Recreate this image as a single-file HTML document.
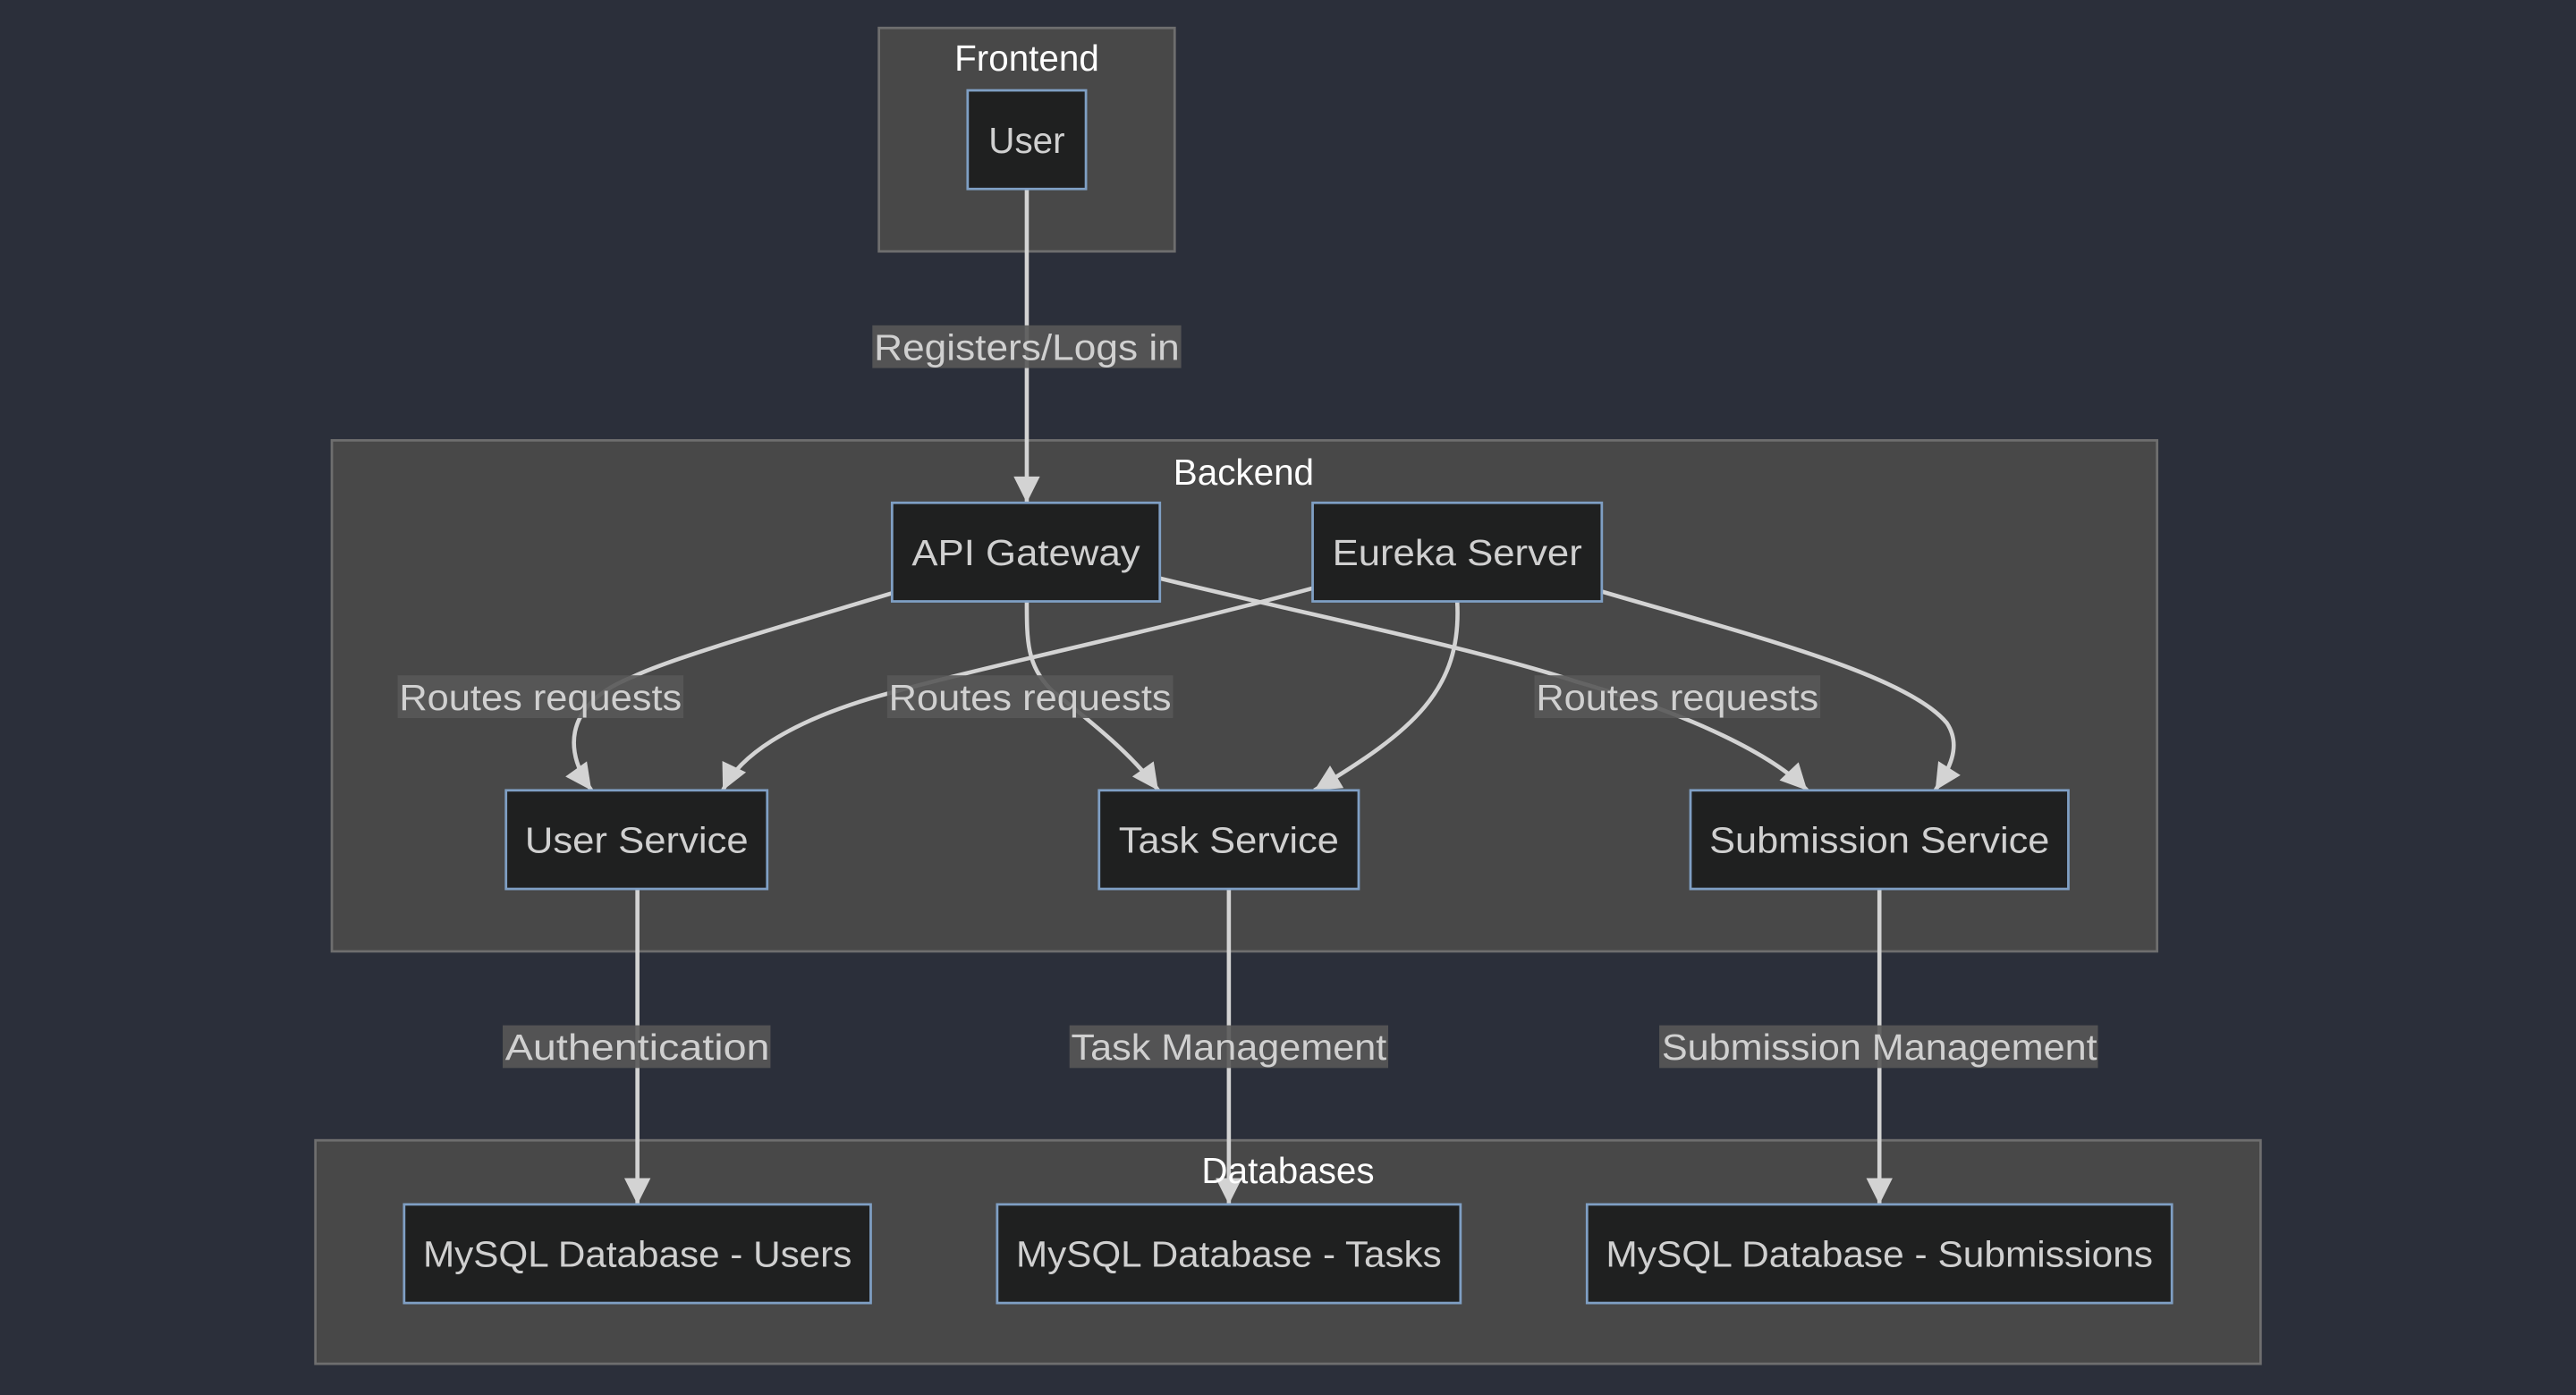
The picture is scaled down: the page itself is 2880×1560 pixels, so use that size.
<!DOCTYPE html>
<html><head><meta charset="utf-8"><style>
html,body{margin:0;padding:0;background:#2b2f3a;}
svg{display:block;}
text{font-family:"Liberation Sans",sans-serif;}
</style></head><body>
<svg width="2880" height="1560" viewBox="0 0 1568 849" preserveAspectRatio="none" xmlns="http://www.w3.org/2000/svg">
<defs>
<marker id="a" viewBox="0 0 10 10" refX="10" refY="5" markerWidth="18" markerHeight="16" markerUnits="userSpaceOnUse" orient="auto">
<path d="M0,0 L10,5 L0,10 z" fill="#d3d3d3"/></marker>
</defs>
<rect width="1568" height="849" fill="#2b2f3a"/>
<g fill="#484848" stroke="#6e6e6e" stroke-width="1.5">
<rect x="535" y="17" width="180" height="136"/>
<rect x="202" y="268" width="1111" height="311"/>
<rect x="192" y="694" width="1184" height="136"/>
</g>
<g fill="#fff" font-size="22" text-anchor="middle">
<text x="625" y="43">Frontend</text>
<text x="757" y="295">Backend</text>
</g>
<g fill="none" stroke="#d3d3d3" stroke-width="2.5">
<path d="M625,115 L625,306" marker-end="url(#a)"/>
<path d="M543,361 C480,380 410,400 385,412 C340,430 345,460 360,481" marker-end="url(#a)"/>
<path d="M625,366 C625,390 625,405 640,420 C665,440 690,460 705,481" marker-end="url(#a)"/>
<path d="M706,352 C800,375 900,395 960,415 C1030,435 1080,460 1100,481" marker-end="url(#a)"/>
<path d="M799,358 C700,385 600,405 530,425 C480,440 450,460 440,481" marker-end="url(#a)"/>
<path d="M887,366 C890,420 860,445 800,481" marker-end="url(#a)"/>
<path d="M975,360 C1060,385 1160,410 1185,440 C1195,455 1185,470 1178,481" marker-end="url(#a)"/>
<path d="M388,541 L388,733" marker-end="url(#a)"/>
<path d="M748,541 L748,733" marker-end="url(#a)"/>
<path d="M1144,541 L1144,733" marker-end="url(#a)"/>
</g>
<g fill="#585858" opacity="0.9">
<rect x="531" y="198" width="188" height="26"/>
<rect x="242" y="411" width="174" height="26"/>
<rect x="540" y="411" width="174" height="26"/>
<rect x="934" y="411" width="174" height="26"/>
<rect x="306" y="624" width="163" height="26"/>
<rect x="651" y="624" width="194" height="26"/>
<rect x="1010" y="624" width="267" height="26"/>
</g>
<g fill="#d0d0d0" font-size="22" text-anchor="middle" textLength="1">
<text x="625" y="219" textLength="186" lengthAdjust="spacingAndGlyphs">Registers/Logs in</text>
<text x="329" y="432" textLength="172" lengthAdjust="spacingAndGlyphs">Routes requests</text>
<text x="627" y="432" textLength="172" lengthAdjust="spacingAndGlyphs">Routes requests</text>
<text x="1021" y="432" textLength="172" lengthAdjust="spacingAndGlyphs">Routes requests</text>
<text x="388" y="645" textLength="161" lengthAdjust="spacingAndGlyphs">Authentication</text>
<text x="748" y="645" textLength="192" lengthAdjust="spacingAndGlyphs">Task Management</text>
<text x="1144" y="645" textLength="265" lengthAdjust="spacingAndGlyphs">Submission Management</text>
</g>
<text x="784" y="720" fill="#fff" font-size="22" text-anchor="middle">Databases</text>
<g fill="#1f2020" stroke="#7f9fc4" stroke-width="1.5">
<rect x="589" y="55" width="72" height="60"/>
<rect x="543" y="306" width="163" height="60"/>
<rect x="799" y="306" width="176" height="60"/>
<rect x="308" y="481" width="159" height="60"/>
<rect x="669" y="481" width="158" height="60"/>
<rect x="1029" y="481" width="230" height="60"/>
<rect x="246" y="733" width="284" height="60"/>
<rect x="607" y="733" width="282" height="60"/>
<rect x="966" y="733" width="356" height="60"/>
</g>
<g fill="#d0d0d0" font-size="22" text-anchor="middle">
<text x="625" y="93">User</text>
<text x="624.5" y="344" textLength="139" lengthAdjust="spacingAndGlyphs">API Gateway</text>
<text x="887" y="344" textLength="152" lengthAdjust="spacingAndGlyphs">Eureka Server</text>
<text x="387.5" y="519" textLength="136" lengthAdjust="spacingAndGlyphs">User Service</text>
<text x="748" y="519" textLength="134" lengthAdjust="spacingAndGlyphs">Task Service</text>
<text x="1144" y="519" textLength="207" lengthAdjust="spacingAndGlyphs">Submission Service</text>
<text x="388" y="771" textLength="261" lengthAdjust="spacingAndGlyphs">MySQL Database - Users</text>
<text x="748" y="771" textLength="259" lengthAdjust="spacingAndGlyphs">MySQL Database - Tasks</text>
<text x="1144" y="771" textLength="333" lengthAdjust="spacingAndGlyphs">MySQL Database - Submissions</text>
</g>
</svg>
</body></html>
